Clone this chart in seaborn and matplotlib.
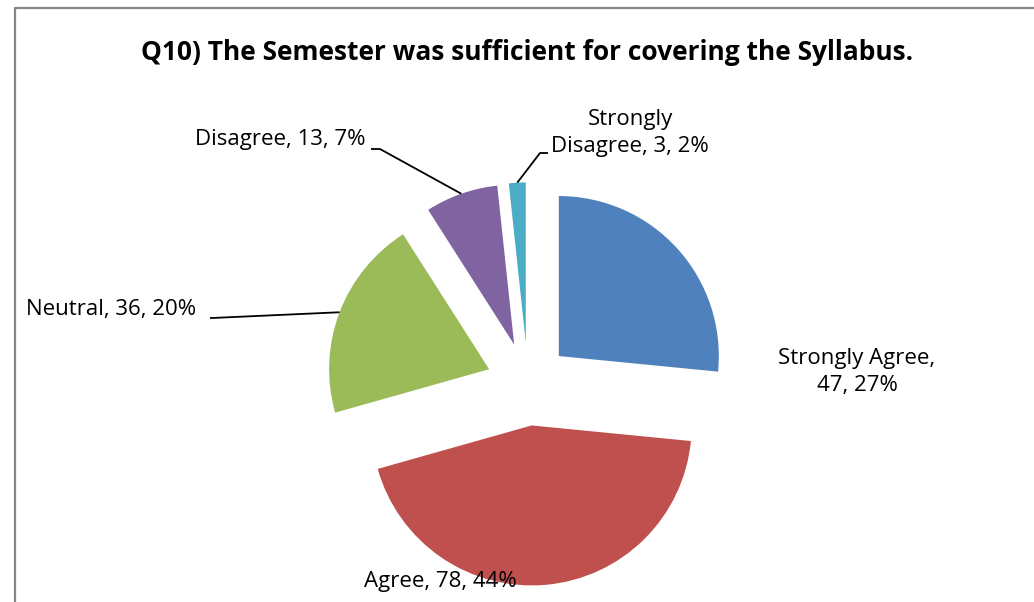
import numpy as np
import matplotlib
matplotlib.use("Agg")
import matplotlib.pyplot as plt
import seaborn as sns
from matplotlib.lines import Line2D

categories = ["Strongly Agree", "Agree", "Neutral", "Disagree", "Strongly Disagree"]
counts = [47, 78, 36, 13, 3]
title = "Q10) The Semester was sufficient for covering the Syllabus."

sns.set_theme(style="white")
plt.rcParams["font.family"] = ["Open Sans", "DejaVu Sans"]
plt.rcParams["text.color"] = "black"
colors = sns.color_palette(["#4F81BD", "#C0504D", "#9BBB59", "#8064A2", "#4BACC6"])

W, H = 1034, 602
CX, CY, R = 528, 384, 160  # pie centre / radius in pixels


def d(px, py):
    return ((px - CX) / R, (CY - py) / R)


fig = plt.figure(figsize=(W / 100, H / 100), dpi=100)
ax = fig.add_axes([0, 0, 1, 1])
explode = [0.26] * len(counts)
wedges, _ = ax.pie(counts, explode=explode, startangle=90, counterclock=False,
                   colors=colors, radius=1, center=(0, 0),
                   wedgeprops=dict(linewidth=0))
ax.set_xlim(-CX / R, (W - CX) / R)
ax.set_ylim(-(H - CY) / R, CY / R)
ax.set_aspect("auto")
ax.axis("off")

total = sum(counts)
pcts = [round(100 * n / total) for n in counts]
labels = [f"{c}, {n}, {p}%" for c, n, p in zip(categories, counts, pcts)]


def mid_arc(i):
    w = wedges[i]
    th = np.deg2rad((w.theta1 + w.theta2) / 2)
    cx, cy = w.center
    return cx + w.r * np.cos(th), cy + w.r * np.sin(th)


fs = 16
ax.text(*d(857, 372), f"{categories[0]},\n{counts[0]}, {pcts[0]}%",
        ha="center", va="center", fontsize=fs, linespacing=1.4)
ax.text(*d(440, 581), labels[1], ha="center", va="center", fontsize=fs)
ax.text(*d(111, 309), labels[2], ha="center", va="center", fontsize=fs)
ax.text(*d(280, 139), labels[3], ha="center", va="center", fontsize=fs)
ax.text(*d(630, 133), f"Strongly\nDisagree, {counts[4]}, {pcts[4]}%",
        ha="center", va="center", fontsize=fs, linespacing=1.42)


def leader(i, start, stub):
    mx, my = mid_arc(i)
    s = d(*start)
    t = d(*stub)
    ax.plot([s[0], t[0], mx], [s[1], t[1], my], color="black", lw=1.3,
            solid_capstyle="butt")


leader(2, (210, 318), (212, 318))
leader(3, (371, 149), (380, 149))
leader(4, (548, 153), (540, 153))

fig.text(527 / W, 1 - 52 / H, title, ha="center", va="center",
         fontsize=19, fontweight="bold")

frame = Line2D([15 / W, 15 / W, 1.0], [0.0, 1 - 8 / H, 1 - 8 / H],
               transform=fig.transFigure, color="#868686", lw=1.6)
fig.add_artist(frame)

fig.savefig("out.png", dpi=100, facecolor="white")
